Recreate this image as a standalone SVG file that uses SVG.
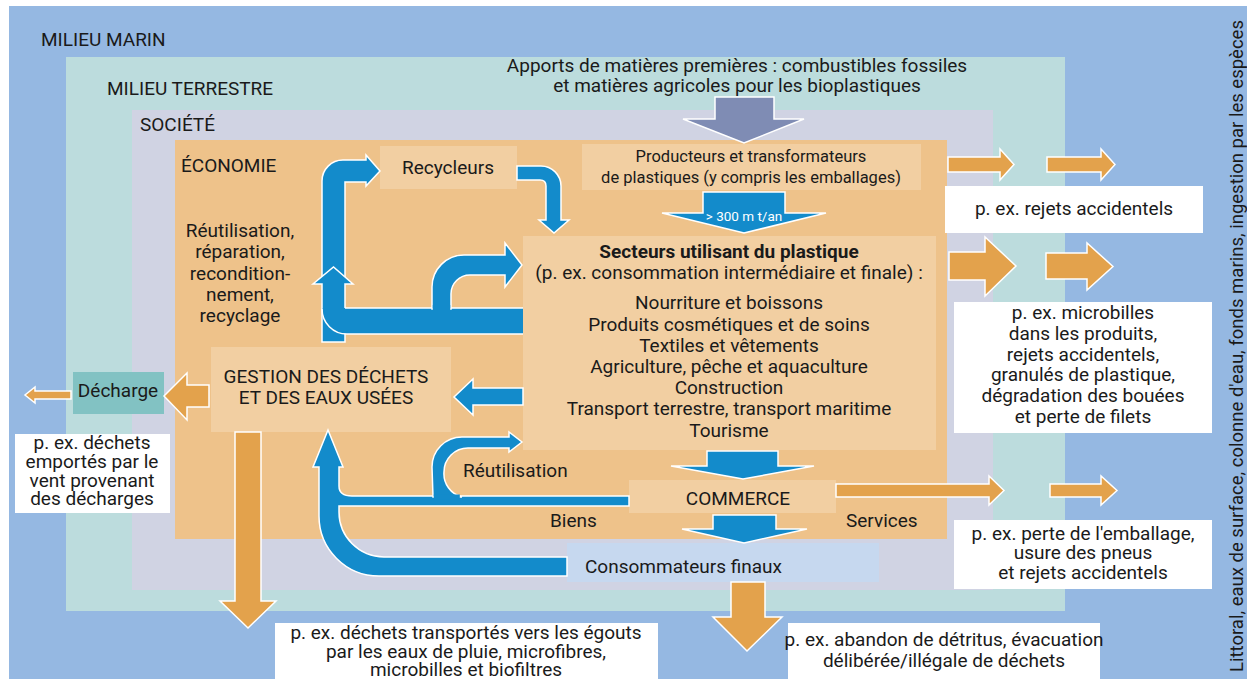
<svg xmlns="http://www.w3.org/2000/svg" width="1247" height="679" viewBox="0 0 1247 679">
<style>
text{font-family:Roboto,"Liberation Sans",sans-serif;font-size:19px;fill:#1a1a1a}
.c{text-anchor:middle}
.b{font-weight:bold}
.sm{font-size:16.5px}
.node{fill:#f2cfa2}
.wbox{fill:#ffffff}
.blue{fill:#138bcb;stroke:#ffffff;stroke-width:1.5;stroke-linejoin:miter}
.bf{fill:#138bcb}
.ws{fill:none;stroke:#ffffff;stroke-width:1.5}
.org{fill:#e3a24c;stroke:#ffffff;stroke-width:1.5}
.gray{fill:#7f8cb4;stroke:#ffffff;stroke-width:1.5}
</style>
<g id="backgrounds">
<rect x="9" y="6" width="1238" height="673" fill="#95b8e2"/>
<rect x="66" y="57" width="999" height="554" fill="#bcdcdd"/>
<rect x="132" y="110" width="861" height="480" fill="#d0d3e3"/>
<rect x="175" y="140" width="772" height="399" fill="#eec28a"/>
<text x="41" y="46">MILIEU MARIN</text>
<text x="107" y="95">MILIEU TERRESTRE</text>
<text x="140" y="131">SOCIÉTÉ</text>
<text x="181" y="172">ÉCONOMIE</text>
<text transform="translate(1243,346) rotate(-90)" class="c" style="font-size:18.5px" textLength="652" lengthAdjust="spacing">Littoral, eaux de surface, colonne d'eau, fonds marins, ingestion par les espèces</text>
</g>
<g id="apports">
<text x="737" y="72" class="c">Apports de matières premières : combustibles fossiles</text>
<text x="737" y="92" class="c">et matières agricoles pour les bioplastiques</text>
</g>
<g id="recycleurs"><rect class="node" x="380" y="146" width="137" height="43"/><text x="448" y="174" class="c">Recycleurs</text></g>
<g id="producteurs"><rect class="node" x="582" y="144" width="339" height="46"/><text x="751" y="162" class="c sm">Producteurs et transformateurs</text><text x="751" y="183" class="c sm">de plastiques (y compris les emballages)</text></g>
<g id="secteurs"><rect class="node" x="523" y="236" width="413" height="214"/>
<text x="729" y="258" class="c b">Secteurs utilisant du plastique</text>
<text x="729" y="279" class="c">(p. ex. consommation intermédiaire et finale) :</text>
<text x="729" y="309" class="c">Nourriture et boissons</text>
<text x="729" y="331" class="c">Produits cosmétiques et de soins</text>
<text x="729" y="352" class="c">Textiles et vêtements</text>
<text x="729" y="373" class="c">Agriculture, pêche et aquaculture</text>
<text x="729" y="394" class="c">Construction</text>
<text x="729" y="415" class="c">Transport terrestre, transport maritime</text>
<text x="729" y="437" class="c">Tourisme</text>
</g>
<g id="reutilisation-label"><text x="240" y="237" class="c">Réutilisation,</text><text x="240" y="258" class="c">réparation,</text><text x="240" y="280" class="c">recondition-</text><text x="240" y="301" class="c">nement,</text><text x="240" y="322" class="c">recyclage</text></g>
<g id="gestion"><rect class="node" x="211" y="347" width="240" height="85"/><text x="326" y="383" class="c">GESTION DES DÉCHETS</text><text x="326" y="404" class="c">ET DES EAUX USÉES</text></g>
<g id="decharge"><rect x="73" y="372" width="91" height="42" fill="#82c2c3"/><text x="118" y="397" class="c">Décharge</text></g>
<g id="commerce"><rect class="node" x="629" y="480" width="207" height="33"/><text x="738" y="505" class="c">COMMERCE</text></g>
<g id="consommateurs"><rect x="567" y="543" width="312" height="39" fill="#c6d8ef"/><text x="585" y="573">Consommateurs finaux</text></g>
<g id="connectors">
<path class="gray" d="M715,97 L774,97 L774,119 L804,119 L744,143 L683,119 L715,119 Z"/>
<path class="blue" d="M703,192 L785,192 L785,213 L826,213 L744,233 L662,213 L703,213 Z"/>
<path class="blue" d="M517,166 L541,166 A20,20 0 0 1 561,186 L561,220 L569,220 L554,233 L539,220 L546,220 L546,186 Q546,180 540,180 L517,180 Z"/>
<path class="blue" d="M322,282 L322,181 A21,21 0 0 1 343,160 L366,160 L366,155 L380,171 L366,186 L366,182 L345,182 L345,282 Z"/>
<path class="blue" d="M322,342 L322,284 L313,284 L333.5,267 L353,284 L345,284 L345,342 Z"/>
<path class="bf" d="M523,308 L322.8,308 L322.8,309 A25,25 0 0 0 347,334 L523,334 Z"/>
<path class="ws" d="M345,308 L523,308 M523,334 L347,334 A25,25 0 0 1 322,309"/>
<path class="blue" d="M432,309 L432,287 A32,32 0 0 1 464,255 L505,255 L505,243 L522,265 L505,287 L505,275 L470,275 A19,19 0 0 0 451,294 L451,309 Z"/>
<rect class="bf" x="432.8" y="305" width="17.4" height="6"/>
<path class="blue" d="M523,388 L473,388 L473,379 L454,397 L473,415 L473,405 L523,405 Z"/>
<path class="blue" d="M707,451 L778,451 L778,466 L814,466 L743,479 L671,466 L707,466 Z"/>
<path class="blue" d="M629,496 L352,496 Q339,496 339,486 L339,467 L343,467 L328,430 L313,467 L319,467 L319,516 A60,60 0 0 0 379,576 L567,576 L567,557 L384,557 A45,45 0 0 1 339,512 L339,506 L629,506 Z"/>
<path class="blue" d="M433,497 L432,467 A30,30 0 0 1 462,437 L509,437 L509,432 L522,442 L509,452 L509,448 L468,448 A24,24 0 0 0 444,472 A24,24 0 0 0 462,497 Z"/>
<rect class="bf" x="433.8" y="494.5" width="26" height="5"/>
<path class="blue" d="M713,515 L776,515 L776,529 L807,529 L744,543 L682,529 L713,529 Z"/>
<path class="org" d="M948,157 L1000,157 L1000,149 L1014,164.5 L1000,180 L1000,172 L948,172 Z"/>
<path class="org" d="M1047,157 L1101,157 L1101,149 L1115,164.5 L1101,180 L1101,172 L1047,172 Z"/>
<path class="org" d="M949,252 L985,252 L985,237 L1016,266 L985,296 L985,280 L949,280 Z"/>
<path class="org" d="M1046,253 L1087,253 L1087,243 L1113,266.5 L1087,290 L1087,279 L1046,279 Z"/>
<path class="org" d="M836,484 L989,484 L989,476 L1004,490.5 L989,505 L989,497 L836,497 Z"/>
<path class="org" d="M1050,484 L1101,484 L1101,476 L1117,490.5 L1101,505 L1101,497 L1050,497 Z"/>
<path class="org" d="M209,385 L187,385 L187,373 L164,396 L187,420 L187,407 L209,407 Z"/>
<path class="org" d="M71,391 L35,391 L35,387 L25,395 L35,403 L35,399 L71,399 Z"/>
<path class="org" d="M235,432 L261,432 L261,601 L276,601 L248,628 L220,601 L235,601 Z"/>
<path class="org" d="M731,582 L765,582 L765,617 L782,617 L747,651 L713,617 L731,617 Z"/>
<text x="744" y="221" class="c" style="font-size:13.5px;fill:#ffffff">&gt; 300 m t/an</text>
<text x="463" y="477">Réutilisation</text>
<text x="550" y="527">Biens</text>
<text x="846" y="527">Services</text>
</g>
<g id="note-rejets"><rect class="wbox" x="945" y="186" width="258" height="47"/><text x="1074" y="215" class="c">p. ex. rejets accidentels</text></g>
<g id="note-microbilles"><rect class="wbox" x="954" y="302" width="258" height="131"/>
<text x="1083" y="319" class="c">p. ex. microbilles</text>
<text x="1083" y="340" class="c">dans les produits,</text>
<text x="1083" y="361" class="c">rejets accidentels,</text>
<text x="1083" y="381" class="c">granulés de plastique,</text>
<text x="1083" y="402" class="c">dégradation des bouées</text>
<text x="1083" y="423" class="c">et perte de filets</text>
</g>
<g id="note-perte"><rect class="wbox" x="954" y="520" width="258" height="69"/>
<text x="1083" y="540" class="c">p. ex. perte de l'emballage,</text>
<text x="1083" y="559" class="c">usure des pneus</text>
<text x="1083" y="579" class="c">et rejets accidentels</text>
</g>
<g id="note-abandon"><rect class="wbox" x="788" y="623" width="312" height="56"/>
<text x="944" y="646" class="c">p. ex. abandon de détritus, évacuation</text>
<text x="944" y="667" class="c">délibérée/illégale de déchets</text>
</g>
<g id="note-egouts"><rect class="wbox" x="275" y="623" width="383" height="56"/>
<text x="466" y="639" class="c">p. ex. déchets transportés vers les égouts</text>
<text x="466" y="658" class="c">par les eaux de pluie, microfibres,</text>
<text x="466" y="676" class="c">microbilles et biofiltres</text>
</g>
<g id="note-vent"><rect class="wbox" x="15" y="434" width="155" height="79"/>
<text x="92" y="449" class="c">p. ex. déchets</text>
<text x="92" y="468" class="c">emportés par le</text>
<text x="92" y="487" class="c">vent provenant</text>
<text x="92" y="505" class="c">des décharges</text>
</g>
</svg>
